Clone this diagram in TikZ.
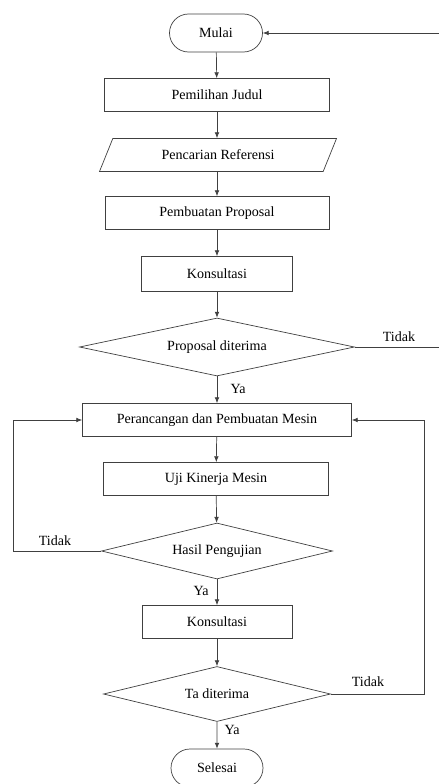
\documentclass[tikz,border=0pt]{standalone}
\usepackage{fontspec}
\setmainfont{Liberation Serif}
\usetikzlibrary{arrows.meta,shapes.geometric,shapes.misc}
\newcommand{\pxu}{0.03cm}

\begin{document}
\begin{tikzpicture}[x=0.03cm, y=-0.03cm,
  font=\fontsize{12}{14}\selectfont,
  every node/.style={inner sep=0pt},
  garis/.style={draw=black!75, line width=0.6pt},
  panah/.style={garis, -{Latex[length=5pt,width=4pt]}},
  terminal/.style={garis, rounded rectangle, minimum width=93*\pxu, minimum height=38*\pxu},
  proses/.style={garis, rectangle, minimum height=33*\pxu},
  data/.style={garis, trapezium, trapezium left angle=37, trapezium right angle=143,
    trapezium stretches body, minimum width=237*\pxu, minimum height=33*\pxu},
  keputusan/.style={garis, diamond, aspect=5}]
\useasboundingbox (0,0) rectangle (438,784);
% Alur utama
\node[terminal] (mulai) at (216,33) {Mulai};
\node[proses, minimum width=225*\pxu] (judul) at (217,95) {Pemilihan Judul};
\node[data] (referensi) at (218,155) {Pencarian Referensi};
\node[proses, minimum width=224*\pxu] (proposal) at (217,213) {Pembuatan Proposal};
\node[proses, minimum width=151*\pxu, minimum height=35*\pxu] (konsul1) at (217,274) {Konsultasi};
\node[keputusan, minimum width=275*\pxu, minimum height=58*\pxu] (terima1) at (217,347) {Proposal diterima};
\node[proses, minimum width=269*\pxu] (rancang) at (217,420) {Perancangan dan Pembuatan Mesin};
\node[proses, minimum width=225*\pxu] (uji) at (216,479) {Uji Kinerja Mesin};
\node[keputusan, minimum width=231*\pxu, minimum height=56*\pxu] (hasil) at (217,551) {Hasil Pengujian};
\node[proses, minimum width=150*\pxu] (konsul2) at (217,622) {Konsultasi};
\node[keputusan, minimum width=227*\pxu, minimum height=55*\pxu] (terima2) at (217,694) {Ta diterima};
\node[terminal, minimum width=92*\pxu] (selesai) at (217,768) {Selesai};

\draw[panah] (mulai) -- (judul);
\draw[panah] (judul) -- (judul |- referensi.north);
\draw[panah] (referensi.south -| judul) -- (proposal);
\draw[panah] (proposal) -- (konsul1);
\draw[panah] (konsul1) -- (terima1);
\draw[panah] (terima1) -- (rancang);
\draw[panah] (rancang) -- (uji);
\draw[panah] (uji) -- (hasil);
\draw[panah] (hasil) -- (konsul2);
\draw[panah] (konsul2) -- (terima2);
\draw[panah] (terima2) -- (selesai);

% Jalur kembali
\coordinate (kanan1) at (442,347);
\coordinate (kiri) at (13,551);
\coordinate (kanan2) at (424,694);
\draw[panah] (terima1.east) -- (kanan1) |- (mulai.east);
\draw[panah] (hasil.west) -- (kiri) |- (rancang.west);
\draw[panah] (terima2.east) -- (kanan2) |- (rancang.east);

% Label
\node (tidak1) at (399,337) {Tidak};
\node (ya1) at (238,389) {Ya};
\node (tidak2) at (55,541) {Tidak};
\node (ya2) at (201,591) {Ya};
\node (tidak3) at (368,682) {Tidak};
\node (ya3) at (232,730) {Ya};
\end{tikzpicture}
\end{document}
